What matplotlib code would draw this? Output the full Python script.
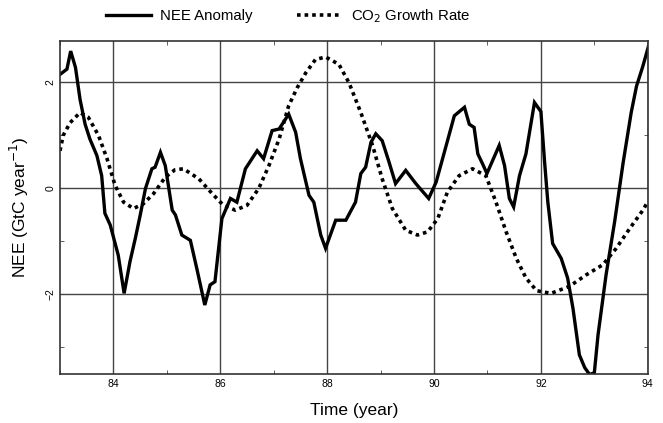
import matplotlib
matplotlib.use("Agg")
import matplotlib.pyplot as plt
from matplotlib.ticker import MultipleLocator

plt.rcParams['font.family'] = ['Liberation Sans', 'DejaVu Sans']

# NEE anomaly (solid line)
nee_year = [83.0, 83.13, 83.2, 83.29, 83.375, 83.47, 83.56, 83.69, 83.78, 83.84,
            83.94, 84.09, 84.2, 84.31, 84.41, 84.5, 84.6, 84.72, 84.78, 84.88,
            84.97, 85.1, 85.16, 85.28, 85.44, 85.56, 85.71, 85.81, 85.9, 86.03,
            86.19, 86.31, 86.47, 86.69, 86.81, 86.97, 87.1, 87.28, 87.41, 87.5,
            87.66, 87.75, 87.88, 87.97, 88.16, 88.35, 88.53, 88.63, 88.72, 88.82,
            88.91, 89.03, 89.16, 89.28, 89.47, 89.66, 89.9, 90.04, 90.16, 90.38,
            90.57, 90.66, 90.75, 90.82, 90.91, 90.99, 91.22, 91.32, 91.41, 91.49,
            91.6, 91.72, 91.88, 92.0, 92.07, 92.13, 92.22, 92.38, 92.5, 92.6,
            92.72, 92.82, 92.91, 93.0, 93.07, 93.22, 93.38, 93.54, 93.69, 93.79,
            93.91, 94.03]
nee_val = [2.15, 2.25, 2.59, 2.28, 1.68, 1.21, 0.93, 0.62, 0.24, -0.47,
           -0.69, -1.26, -1.98, -1.38, -0.94, -0.51, 0.0, 0.37, 0.4, 0.68,
           0.43, -0.41, -0.5, -0.88, -0.98, -1.51, -2.2, -1.82, -1.76, -0.57,
           -0.19, -0.26, 0.37, 0.71, 0.56, 1.09, 1.12, 1.4, 1.06, 0.56,
           -0.13, -0.26, -0.88, -1.13, -0.6, -0.6, -0.26, 0.28, 0.4, 0.87,
           1.03, 0.9, 0.49, 0.09, 0.34, 0.09, -0.19, 0.12, 0.56, 1.37,
           1.53, 1.21, 1.15, 0.65, 0.46, 0.28, 0.81, 0.43, -0.19, -0.35,
           0.24, 0.65, 1.62, 1.45, 0.49, -0.26, -1.04, -1.32, -1.69, -2.26,
           -3.14, -3.38, -3.51, -3.48, -2.76, -1.63, -0.63, 0.49, 1.43, 1.93,
           2.31, 2.74]

# CO2 growth rate (dotted line)
co2_year = [83.0, 83.06, 83.19, 83.375, 83.53, 83.72, 83.88, 84.03, 84.19, 84.375,
            84.56, 84.75, 84.97, 85.15, 85.31, 85.6, 85.85, 86.06, 86.28, 86.5,
            86.72, 86.91, 87.1, 87.28, 87.44, 87.6, 87.78, 87.97, 88.22, 88.41,
            88.63, 88.85, 89.03, 89.22, 89.47, 89.69, 89.88, 90.07, 90.25, 90.47,
            90.72, 90.97, 91.16, 91.35, 91.54, 91.72, 91.92, 92.19, 92.53, 92.85,
            93.16, 93.41, 93.66, 93.91, 94.0]
co2_val = [0.71, 1.0, 1.24, 1.43, 1.34, 1.0, 0.56, 0.06, -0.26, -0.38,
           -0.29, -0.1, 0.21, 0.35, 0.37, 0.18, -0.1, -0.32, -0.41, -0.32,
           0.0, 0.43, 0.93, 1.56, 1.9, 2.18, 2.43, 2.48, 2.34, 1.99,
           1.43, 0.81, 0.18, -0.38, -0.79, -0.88, -0.82, -0.57, -0.07, 0.24,
           0.37, 0.24, -0.26, -0.82, -1.32, -1.69, -1.93, -1.98, -1.85, -1.63,
           -1.44, -1.13, -0.76, -0.41, -0.25]

fig = plt.figure(figsize=(6.63, 4.23), dpi=100)
ax = fig.add_axes([0.0905, 0.116, 0.8865, 0.787])

ax.plot(nee_year, nee_val, color='black', linewidth=2.4, label='NEE Anomaly',
        solid_joinstyle='miter')
ax.plot(co2_year, co2_val, color='black', linewidth=2.6, linestyle=(0, (1, 1.1)),
        label='CO$_2$ Growth Rate')

ax.set_xlim(83, 94)
ax.set_ylim(-3.5, 2.78)
ax.xaxis.set_major_locator(MultipleLocator(2))
ax.xaxis.set_minor_locator(MultipleLocator(1))
ax.yaxis.set_major_locator(MultipleLocator(2))
ax.yaxis.set_minor_locator(MultipleLocator(1))
ax.grid(True, which='major', color='#444444', linewidth=1.0)
ax.tick_params(which='both', direction='in', top=True, right=True, labelsize=7.5,
               color='#444444')
ax.tick_params(which='major', length=0)
ax.tick_params(which='minor', length=3)
for lab in ax.get_yticklabels():
    lab.set_rotation(90)
    lab.set_va('center')
for s in ax.spines.values():
    s.set_linewidth(1.2)
    s.set_color('#333333')

ax.set_xlabel('Time (year)', fontsize=12.5, labelpad=10)
ax.set_ylabel('NEE (GtC year$^{-1}$)', fontsize=12.5, labelpad=10)

fig.legend(loc='center', bbox_to_anchor=(0.435, 0.963), ncol=2, frameon=False,
           fontsize=10.8, handlelength=3.0, handletextpad=0.6, columnspacing=3.0)

fig.savefig('out.png', dpi=100)
